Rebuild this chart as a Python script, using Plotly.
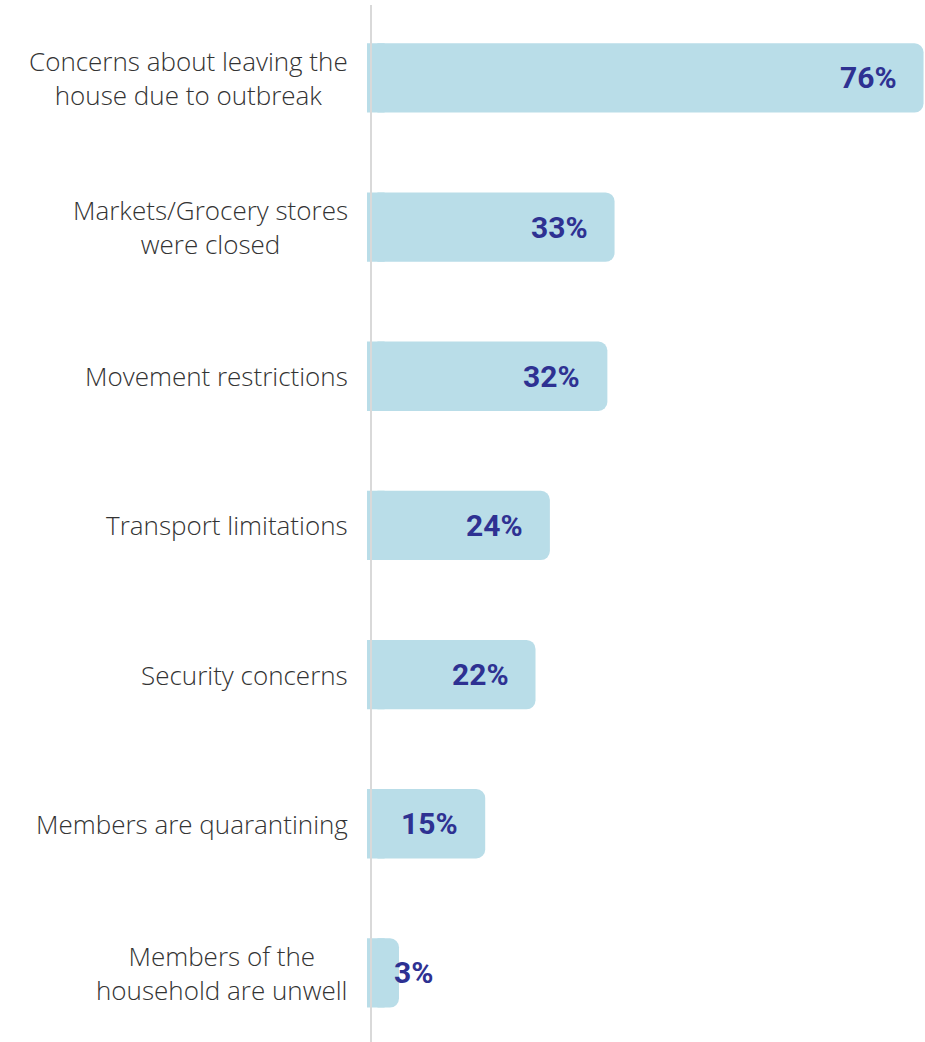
import plotly.graph_objects as go

categories = [
    "Concerns about leaving the<br>house due to outbreak",
    "Markets/Grocery stores<br>were closed",
    "Movement restrictions",
    "Transport limitations",
    "Security concerns",
    "Members are quarantining",
    "Members of the<br>household are unwell",
]
values = [76, 33, 32, 24, 22, 15, 3]
value_labels = ["76%", "33%", "32%", "24%", "22%", "15%", "3%"]

bar_color = "#b9dde8"
label_color = "#2e3192"
text_color = "#333333"
stub = -1.45  # bars begin slightly behind the axis line, as in the original

ys = list(range(len(categories)))

fig = go.Figure()
# square-cornered stub behind the axis line (style only), overlapping the bar start
fig.add_trace(go.Bar(
    x=[1.0 - stub] * len(values), base=stub, y=ys, orientation="h",
    marker=dict(color=bar_color, line=dict(width=0), cornerradius=0),
    width=0.465, hoverinfo="skip",
))
fig.add_trace(go.Bar(
    x=values, y=ys, orientation="h",
    marker=dict(color=bar_color, line=dict(width=0), cornerradius=9),
    width=0.465, hoverinfo="skip",
))

annotations = []
for i, (cat, v, lab) in enumerate(zip(categories, values, value_labels)):
    annotations.append(dict(
        x=stub, y=i, xref="x", yref="y", text=cat, showarrow=False,
        xanchor="right", yanchor="middle", align="center", xshift=-17,
        font=dict(family="Open Sans", size=26, color=text_color, weight=300),
    ))
    if v >= 10:
        annotations.append(dict(
            x=v, y=i, xref="x", yref="y", text=lab, showarrow=False,
            xanchor="right", yanchor="middle", xshift=-25,
            font=dict(family="Roboto", size=30, color=label_color, weight="bold"),
        ))
    else:
        annotations.append(dict(
            x=v, y=i, xref="x", yref="y", text=lab, showarrow=False,
            xanchor="left", yanchor="middle", xshift=-7,
            font=dict(family="Roboto", size=30, color=label_color, weight="bold"),
        ))

fig.update_layout(
    width=925, height=1042,
    margin=dict(l=367, r=0, t=5, b=0),
    paper_bgcolor="white", plot_bgcolor="white",
    barmode="overlay",
    showlegend=False,
    annotations=annotations,
    xaxis=dict(range=[stub, 76.2], showgrid=False, zeroline=False, showticklabels=False,
               showline=False, fixedrange=True),
    yaxis=dict(range=[6.463, -0.489], showgrid=False, zeroline=False, showticklabels=False,
               showline=True, linecolor="#d9d9d9", linewidth=2, ticks="",
               anchor="free", position=0.007),
)

fig.write_html(
    "out.html",
    config={"displayModeBar": False},
    post_script="document.body.style.margin='0';document.body.style.overflow='hidden';",
)
